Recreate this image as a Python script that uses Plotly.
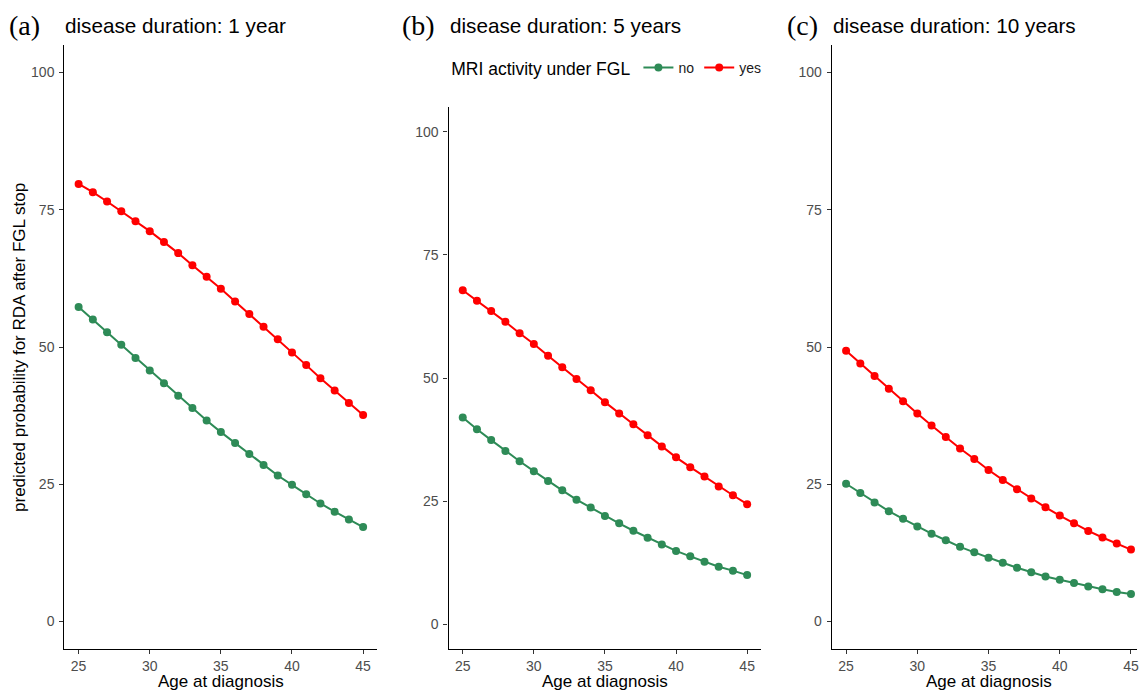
import plotly.graph_objects as go

W, H = 1139, 691

age = list(range(25, 46))
a_no = [57.3, 55.0, 52.7, 50.4, 48.0, 45.7, 43.4, 41.1, 38.9, 36.6, 34.5, 32.5, 30.5, 28.5, 26.6, 24.9, 23.2, 21.5, 20.0, 18.6, 17.2]
a_yes = [79.7, 78.2, 76.5, 74.7, 72.9, 71.1, 69.1, 67.1, 64.9, 62.8, 60.6, 58.3, 56.0, 53.7, 51.4, 49.0, 46.7, 44.3, 42.1, 39.8, 37.6]
b_no = [42.0, 39.6, 37.4, 35.2, 33.1, 31.1, 29.1, 27.2, 25.3, 23.7, 22.0, 20.5, 19.0, 17.6, 16.2, 14.9, 13.8, 12.7, 11.7, 10.9, 10.0]
b_yes = [67.8, 65.7, 63.6, 61.4, 59.1, 56.9, 54.5, 52.2, 49.8, 47.5, 45.1, 42.8, 40.6, 38.4, 36.1, 33.9, 31.9, 30.0, 28.0, 26.2, 24.4]
c_no = [25.1, 23.4, 21.7, 20.1, 18.7, 17.3, 16.0, 14.8, 13.6, 12.6, 11.6, 10.7, 9.8, 9.0, 8.2, 7.6, 7.0, 6.4, 5.9, 5.4, 5.0]
c_yes = [49.3, 47.0, 44.7, 42.4, 40.1, 37.9, 35.7, 33.6, 31.5, 29.6, 27.6, 25.8, 24.1, 22.4, 20.8, 19.3, 17.9, 16.5, 15.3, 14.2, 13.1]

panel_letters = ["(a)", "(b)", "(c)"]
panel_titles = ["disease duration: 1 year", "disease duration: 5 years", "disease duration: 10 years"]
x_ticks = [25, 30, 35, 40, 45]
y_ticks = [0, 25, 50, 75, 100]
legend_title = "MRI activity under FGL"
group_names = ["no", "yes"]
x_title = "Age at diagnosis"
y_title = "predicted probability for RDA after FGL stop"

GREEN = "#2E8B57"
RED = "#FF0000"
FONT = "Liberation Sans, Arial, sans-serif"


def px(x):
    return x / W


def py(y):
    return 1 - y / H


# panel geometry in screen pixels: (left, right, top, bottom)
panels = [(64.5, 378.0, 45, 649), (449.3, 762.7, 107, 649), (833.3, 1139.0, 45, 649)]
x_ranges = [[24, 46], [24, 46], [24, 24 + (1139 - 833.3) / 14.27]]

series = [(a_no, a_yes), (b_no, b_yes), (c_no, c_yes)]

fig = go.Figure()
for i, (no_vals, yes_vals) in enumerate(series):
    xa = "x" if i == 0 else f"x{i+1}"
    ya = "y" if i == 0 else f"y{i+1}"
    for name, vals, col in ((group_names[0], no_vals, GREEN), (group_names[1], yes_vals, RED)):
        fig.add_trace(go.Scatter(
            x=age, y=vals, mode="lines+markers", name=name,
            line=dict(color=col, width=2), marker=dict(color=col, size=8),
            xaxis=xa, yaxis=ya, showlegend=(i == 0), legendgroup=name,
        ))

layout = dict(
    width=W, height=H, margin=dict(l=0, r=0, t=0, b=0),
    paper_bgcolor="white", plot_bgcolor="white",
    font=dict(family=FONT, color="#000000"),
    legend=dict(
        orientation="h", x=px(450), y=py(52), xanchor="left", yanchor="top",
        title=dict(text=legend_title, side="left", font=dict(size=17.5, color="#000000")),
        font=dict(size=14, color="#1a1a1a"), bgcolor="rgba(0,0,0,0)",
        itemwidth=30, tracegroupgap=0,
    ),
)

annotations = []
for i, (l, r, t, b) in enumerate(panels):
    suf = "" if i == 0 else str(i + 1)
    layout["xaxis" + suf] = dict(
        domain=[px(l), min(1.0, px(r))], range=x_ranges[i], anchor="y" + suf,
        tickvals=x_ticks, showgrid=False, zeroline=False,
        showline=True, linecolor="#000000", linewidth=1.3,
        ticks="outside", ticklen=4, tickwidth=1, tickcolor="#333333",
        tickfont=dict(size=14, color="#4D4D4D", family=FONT),
        ticklabeloverflow="allow",
    )
    layout["yaxis" + suf] = dict(
        domain=[py(b), py(t)], range=[-5, 105], anchor="x" + suf,
        tickvals=y_ticks, showgrid=False, zeroline=False,
        showline=True, linecolor="#000000", linewidth=1.3,
        ticks="outside", ticklen=4, tickwidth=1, tickcolor="#333333",
        tickfont=dict(size=14, color="#4D4D4D", family=FONT),
        ticklabelstandoff=2,
    )
    letter_x = [7, 401, 786][i]
    annotations.append(dict(
        text=panel_letters[i], x=px(letter_x), y=py(25), xref="paper", yref="paper",
        xanchor="left", yanchor="middle", showarrow=False,
        font=dict(family="Liberation Serif, Times New Roman, serif", size=28, color="#000000"),
    ))
    annotations.append(dict(
        text=panel_titles[i], x=px(l - 1), y=py(25), xref="paper", yref="paper",
        xanchor="left", yanchor="middle", showarrow=False,
        font=dict(family=FONT, size=20.7, color="#000000"),
    ))
    cx = [221.3, 606.0, 991.0][i]
    annotations.append(dict(
        text=x_title, x=px(cx), y=py(681), xref="paper", yref="paper",
        xanchor="center", yanchor="middle", showarrow=False,
        font=dict(family=FONT, size=17, color="#000000"),
    ))

annotations.append(dict(
    text=y_title, x=px(20), y=py(347), xref="paper", yref="paper",
    xanchor="center", yanchor="middle", showarrow=False, textangle=-90,
    font=dict(family=FONT, size=17, color="#000000"),
))
layout["annotations"] = annotations

fig.update_layout(**layout)
fig.write_html(
    "out.html",
    config={"displayModeBar": False},
    post_script="document.body.style.margin='0';document.body.style.overflow='hidden';",
)
